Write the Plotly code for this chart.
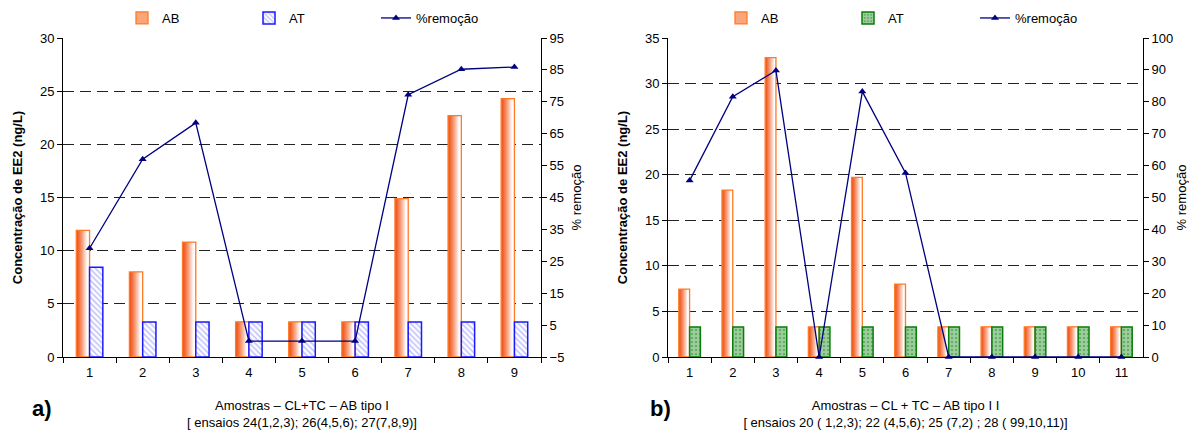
import plotly.graph_objects as go

# ---------------- data ----------------
cats_a = ["1", "2", "3", "4", "5", "6", "7", "8", "9"]
ab_a = [11.9, 8.0, 10.8, 3.3, 3.3, 3.3, 14.9, 22.7, 24.3]
at_a = [8.45, 3.3, 3.3, 3.3, 3.3, 3.3, 3.3, 3.3, 3.3]
rem_a = [29.1, 57.0, 68.4, 0.0, 0.0, 0.0, 77.2, 85.2, 85.9]

cats_b = ["1", "2", "3", "4", "5", "6", "7", "8", "9", "10", "11"]
ab_b = [7.45, 18.3, 32.85, 3.3, 19.7, 8.0, 3.3, 3.3, 3.3, 3.3, 3.3]
at_b = [3.3, 3.3, 3.3, 3.3, 3.3, 3.3, 3.3, 3.3, 3.3, 3.3, 3.3]
rem_b = [55.3, 81.6, 89.8, 0.0, 83.2, 57.7, 0.0, 0.0, 0.0, 0.0, 0.0]

series_names = ["AB", "AT", "%remoção"]
xtitle_a = "Amostras – CL+TC – AB tipo I<br>[ ensaios 24(1,2,3); 26(4,5,6); 27(7,8,9)]"
xtitle_b = "Amostras – CL + TC – AB tipo I I<br>[ ensaios 20 ( 1,2,3); 22 (4,5,6); 25 (7,2) ; 28 ( 99,10,11)]"
ytitle = "<b>Concentração de EE2 (ng/L)</b>"
y2title = "% remoção"

# ---------------- style ----------------
W, H = 1189, 432
FONT = "Arial, Liberation Sans, sans-serif"
ORANGE_LINE = "#ff7a26"
BW = 0.25          # bar width (category units)
NSL = 12           # gradient slices
NAVY = "#000080"


def grad_color(k):
    t = min(1.0, (k / NSL) ** 1.2 / 0.75)
    c0 = (240, 85, 25)
    c1 = (255, 255, 255)
    return "rgb(%d,%d,%d)" % tuple(round(a + (b - a) * t) for a, b in zip(c0, c1))


fig = go.Figure()


def add_chart(cats, ab, at, rem, xa, ya, ya2, legend, at_style):
    n = len(cats)
    for k in range(NSL):
        fig.add_trace(go.Bar(
            x=cats, y=ab, xaxis=xa, yaxis=ya,
            offset=-BW + k * BW / NSL, width=BW - k * BW / NSL,
            marker=dict(color=grad_color(k), line=dict(width=0)),
            showlegend=False, hoverinfo="skip", legend=legend))
    fig.add_trace(go.Bar(
        x=cats, y=ab, xaxis=xa, yaxis=ya, offset=-BW, width=BW,
        marker=dict(color="rgba(0,0,0,0)", line=dict(color=ORANGE_LINE, width=1.3)),
        showlegend=False, name=series_names[0], legend=legend))
    fig.add_trace(go.Bar(
        x=cats, y=[None] * n, xaxis=xa, yaxis=ya, offset=-BW, width=BW,
        marker=dict(color="#fba57c", line=dict(color=ORANGE_LINE, width=1.3)),
        name=series_names[0], legend=legend, legendrank=1))
    fig.add_trace(go.Bar(
        x=cats, y=at, xaxis=xa, yaxis=ya, offset=0, width=BW,
        marker=at_style, name=series_names[1], legend=legend, legendrank=2))
    fig.add_trace(go.Scatter(
        x=cats, y=rem, xaxis=xa, yaxis=ya2, mode="lines+markers",
        line=dict(color=NAVY, width=1.3), cliponaxis=False,
        marker=dict(symbol="triangle-up", size=7, color=NAVY),
        name=series_names[2], legend=legend, legendrank=3))


at_style_a = dict(
    color="white", line=dict(color="#1a1aff", width=1.5),
    pattern=dict(shape="\\", fgcolor="#8c8cff", bgcolor="white", size=4, solidity=0.45))
at_style_b = dict(
    color="#2e8b2e", line=dict(color="#0a7d0a", width=1.5),
    pattern=dict(shape=".", fgcolor="white", bgcolor="#3a9a3a", size=4, solidity=0.8))

add_chart(cats_a, ab_a, at_a, rem_a, "x", "y", "y2", "legend", at_style_a)
add_chart(cats_b, ab_b, at_b, rem_b, "x2", "y3", "y4", "legend2", at_style_b)

ytop = 1 - 38 / H
ybot = 1 - 357 / H
dom_a = [63 / W, 541 / W]
dom_b = [668 / W, 1143 / W]

tickfont = dict(family=FONT, size=13, color="black")
xcommon = dict(type="category", showline=True, linecolor="black", linewidth=1,
               ticks="outside", ticklen=5, tickcolor="black", tickson="boundaries",
               showgrid=False, tickfont=tickfont, automargin=False, ticklabelstandoff=3)
ycommon = dict(showline=True, linecolor="black", linewidth=1, ticks="outside", ticklen=5,
               tickcolor="black", zeroline=False, tickfont=tickfont, automargin=False)
grid = dict(showgrid=True, gridcolor="#222222", gridwidth=1, griddash="11px,6px")

fig.update_layout(
    width=W, height=H, autosize=False,
    margin=dict(l=0, r=0, t=0, b=0, autoexpand=False),
    paper_bgcolor="white", plot_bgcolor="white",
    barmode="overlay",
    font=dict(family=FONT, size=13, color="black"),
    xaxis=dict(domain=dom_a, anchor="y", range=[-0.5, 8.5],
               title=dict(text=xtitle_a, font=dict(size=13), standoff=22), **xcommon),
    yaxis=dict(domain=[ybot, ytop], anchor="x", range=[0, 30], dtick=5, tick0=0,
               title=dict(text=ytitle, font=dict(size=13), standoff=14), **grid, **ycommon),
    yaxis2=dict(overlaying="y", side="right", anchor="x", range=[-5, 95], dtick=10, tick0=-5,
                showgrid=False,
                title=dict(text=y2title, font=dict(size=13), standoff=8), **ycommon),
    xaxis2=dict(domain=dom_b, anchor="y3", range=[-0.5, 10.5],
                title=dict(text=xtitle_b, font=dict(size=13), standoff=22), **xcommon),
    yaxis3=dict(domain=[ybot, ytop], anchor="x2", range=[0, 35], dtick=5, tick0=0,
                title=dict(text=ytitle, font=dict(size=13), standoff=14), **grid, **ycommon),
    yaxis4=dict(overlaying="y3", side="right", anchor="x2", range=[0, 100], dtick=10, tick0=0,
                showgrid=False,
                title=dict(text=y2title, font=dict(size=13), standoff=6), **ycommon),
    legend=dict(orientation="h", x=122 / W, y=1 - 18 / H, xanchor="left", yanchor="middle",
                entrywidth=82, entrywidthmode="pixels", bgcolor="rgba(0,0,0,0)",
                font=dict(size=13), traceorder="normal"),
    legend2=dict(orientation="h", x=721 / W, y=1 - 18 / H, xanchor="left", yanchor="middle",
                 entrywidth=82, entrywidthmode="pixels", bgcolor="rgba(0,0,0,0)",
                 font=dict(size=13), traceorder="normal"),
    annotations=[
        dict(text="<b>a)</b>", x=30 / W, y=1 - 408 / H, xref="paper", yref="paper",
             xanchor="left", yanchor="middle", showarrow=False, font=dict(size=22)),
        dict(text="<b>b)</b>", x=648 / W, y=1 - 408 / H, xref="paper", yref="paper",
             xanchor="left", yanchor="middle", showarrow=False, font=dict(size=22)),
    ],
)

fig.write_html(
    "out.html",
    config={"responsive": False, "displayModeBar": False},
    post_script="document.body.style.margin='0';document.body.style.overflow='hidden';",
)
